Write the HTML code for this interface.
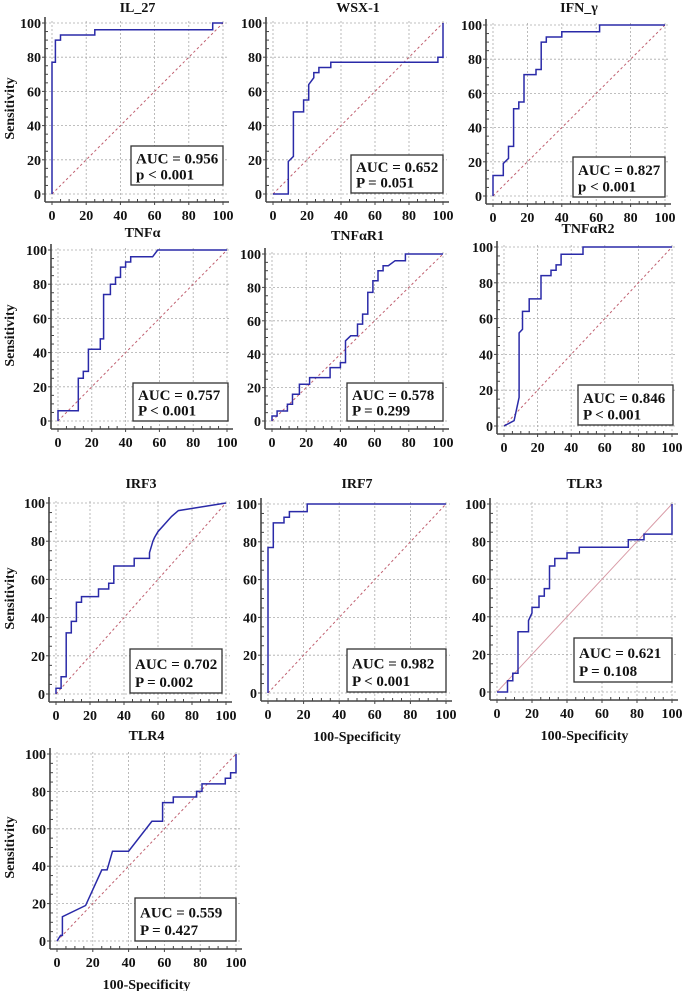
<!DOCTYPE html>
<html><head><meta charset="utf-8">
<style>
html,body{margin:0;padding:0;background:#fff;}
svg{display:block;font-family:"Liberation Serif",serif;font-weight:bold;}
</style></head>
<body>
<svg id="fig" width="684" height="991" viewBox="0 0 684 991" xmlns="http://www.w3.org/2000/svg"></svg>
<script>
const tickValues = [0,20,40,60,80,100];
const il27Fpr = [0,0,2,2,5,5,25,25,94,94,100];
const il27Tpr = [0,77,77,90,90,93,93,96,96,100,100];
const wsxFpr = [0,9,9,12,12,18,18,21,21,24,24,27,27,34,34,97,97,100,100];
const wsxTpr = [0,0,19,22,48,48,55,55,64,68,71,71,74,74,77,77,80,80,100];
const ifnFpr = [0,0,6,6,9,9,12,12,15,15,18,18,25,25,28,28,31,31,40,40,62,62,100];
const ifnTpr = [0,12,12,19,22,29,29,51,51,55,55,71,71,74,74,90,90,93,93,96,96,100,100];
const tnfFpr = [0,0,12,12,15,15,18,18,25,25,27,27,31,31,34,34,37,37,40,40,43,43,56,59,100];
const tnfTpr = [0,6,6,25,25,29,29,42,42,48,48,74,74,80,80,84,84,90,90,93,93,96,96,100,100];
const r1Fpr = [0,0,3,3,9,9,12,12,16,16,22,22,34,34,40,40,43,43,46,50,50,53,53,56,56,59,59,62,62,65,65,68,72,78,78,100];
const r1Tpr = [0,3,3,6,6,10,10,16,16,22,22,26,26,32,32,35,35,48,51,51,58,58,64,64,77,77,84,84,90,90,93,93,96,96,100,100];
const r2Fpr = [0,6,9,9,11,11,15,15,22,22,28,28,31,31,34,34,47,47,100];
const r2Tpr = [0,3,16,52,54,64,64,71,71,84,84,87,87,90,90,96,96,100,100];
const irf3Fpr = [0,0,3,3,6,6,9,9,12,12,15,15,25,25,31,31,34,34,46,46,55,55,57,58,60,68,68,72,72,100];
const irf3Tpr = [0,3,3,9,9,32,32,38,38,48,48,51,51,55,55,58,58,67,67,71,71,74,80,82,85,93,93,96,96,100];
const irf7Fpr = [0,0,3,3,9,9,12,12,22,22,100];
const irf7Tpr = [0,77,77,90,90,93,93,96,96,100,100];
const tlr3Fpr = [0,6,6,9,9,12,12,18,18,20,20,24,24,27,27,30,30,33,33,40,40,47,47,75,75,84,84,100,100];
const tlr3Tpr = [0,0,6,6,10,10,32,32,38,42,45,45,51,51,55,55,67,67,71,71,74,74,77,77,81,81,84,84,100];
const tlr4Fpr = [0,2,3,3,16,25,28,31,40,53,59,59,65,65,78,78,81,81,94,94,97,97,100,100];
const tlr4Tpr = [0,3,3,13,19,38,38,48,48,64,64,74,74,77,77,80,80,84,84,87,87,90,90,100];
const panelTitles = ["IL_27","WSX-1","IFN_\u03b3","TNF\u03b1","TNF\u03b1R1","TNF\u03b1R2","IRF3","IRF7","TLR3","TLR4"];
const aucLabels = ["AUC = 0.956","AUC = 0.652","AUC = 0.827","AUC = 0.757","AUC = 0.578","AUC = 0.846","AUC = 0.702","AUC = 0.982","AUC = 0.621","AUC = 0.559"];
const pLabels = ["p < 0.001","P = 0.051","p < 0.001","P < 0.001","P = 0.299","P < 0.001","P = 0.002","P < 0.001","P = 0.108","P = 0.427"];
const curvesFpr = [il27Fpr,wsxFpr,ifnFpr,tnfFpr,r1Fpr,r2Fpr,irf3Fpr,irf7Fpr,tlr3Fpr,tlr4Fpr];
const curvesTpr = [il27Tpr,wsxTpr,ifnTpr,tnfTpr,r1Tpr,r2Tpr,irf3Tpr,irf7Tpr,tlr3Tpr,tlr4Tpr];

const layout = [
 [52,223,23,194,12, 131,146,223,185, true,false],
 [273,443,23,194,12, 351,155,443,193, false,false],
 [493,665,25,196,12, 573,157,665,197, false,false],
 [58,227,250,421,237, 133,383,228,421, true,false],
 [272,443,254,421,240, 347,383,443,421, false,false],
 [504,672,247,426,233, 578,385,673,425, false,false],
 [56,226,503,694,488, 130,649,222,693, true,false],
 [268,446,504,693,488, 347,649,446,692, false,true],
 [497,672,504,692,488, 574,638,672,682, false,true],
 [57,236,754,941,740, 135,898,236,941, true,true]
];
const NS="http://www.w3.org/2000/svg";
const svg=document.getElementById('fig');
function mk(tag,attrs,parent){const e=document.createElementNS(NS,tag);for(const k in attrs)e.setAttribute(k,attrs[k]);(parent||svg).appendChild(e);return e;}

layout.forEach((L,i)=>{
  const [x0,x1,yt,yb,ty,bx1,by1,bx2,by2,showY,showX]=L;
  const g=mk('g',{});
  
  
  const sx=v=>x0+(x1-x0)*v/100;
  const sy=v=>yb-(yb-yt)*v/100;
  const ax=x0-7, ay=yb+8;
  tickValues.forEach(v=>{
    const gl=mk('line',{x1:sx(v),x2:sx(v),y1:yt-2,y2:ay,stroke:'#aaa','stroke-width':0.8,'stroke-dasharray':'2,2'},g);
    
    
    const gh=mk('line',{x1:ax,x2:x1+4,y1:sy(v),y2:sy(v),stroke:'#aaa','stroke-width':0.8,'stroke-dasharray':'2,2'},g);
    
    
  });
  const dAttrs = i===8
    ? {x1:sx(0),y1:sy(0),x2:sx(100),y2:sy(100),stroke:'#d89aa6','stroke-width':1}
    : {x1:sx(0),y1:sy(0),x2:sx(100),y2:sy(100),stroke:'#c06070','stroke-width':1,'stroke-dasharray':'2.5,2.5'};
  const d=mk('line',dAttrs,g);
  
  
  const ya=mk('line',{x1:ax,x2:ax,y1:yt-6,y2:ay,stroke:'#444','stroke-width':1.6},g);
  
  
  const xa=mk('line',{x1:ax,x2:x1+6,y1:ay,y2:ay,stroke:'#444','stroke-width':1.6},g);
  
  
  for(let v=0;v<=100;v+=5){
    const maj=v%20===0;
    mk('line',{x1:ax,x2:ax+(maj?-3:3),y1:sy(v),y2:sy(v),stroke:'#444','stroke-width':1},g);
    mk('line',{x1:sx(v),x2:sx(v),y1:ay,y2:ay+(maj?3:-3),stroke:'#444','stroke-width':1},g);
  }
  tickValues.forEach(v=>{
    const t=mk('text',{x:ax-4,y:sy(v)+5,'text-anchor':'end','font-size':14,fill:'#111'},g);
    t.textContent=v;
    
    
    const u=mk('text',{x:sx(v),y:ay+18,'text-anchor':'middle','font-size':14,fill:'#111'},g);
    u.textContent=v;
    
    
  });
  const tt=mk('text',{x:(x0+x1)/2,y:ty,'text-anchor':'middle','font-size':14,fill:'#111'},g);
  tt.textContent=panelTitles[i];
  
  
  if(showY){
    const cy=(yt+yb)/2;
    const yl=mk('text',{x:14,y:cy,'text-anchor':'middle','font-size':14,fill:'#111',transform:`rotate(-90 14 ${cy})`},g);
    yl.textContent='Sensitivity';
    
    
  }
  if(showX){
    const xl=mk('text',{x:(x0+x1)/2,y:ay+40,'text-anchor':'middle','font-size':14,fill:'#111'},g);
    xl.textContent='100-Specificity';
    
    
  }
  const F=curvesFpr[i],T=curvesTpr[i];
  const pts=F.map((f,k)=>sx(f).toFixed(1)+','+sy(T[k]).toFixed(1)).join(' ');
  const c=mk('polyline',{points:pts,fill:'none',stroke:'#2a2aa8','stroke-width':1.5},g);
  
  
  const b=mk('rect',{x:bx1,y:by1,width:bx2-bx1,height:by2-by1,fill:'#fff',stroke:'#333','stroke-width':1.3},g);
  
  
  const h=by2-by1;
  const a=mk('text',{x:bx1+5,y:by1+h*0.45,'font-size':15,fill:'#111'},g);
  a.textContent=aucLabels[i];
  
  
  const p=mk('text',{x:bx1+5,y:by1+h*0.86,'font-size':15,fill:'#111'},g);
  p.textContent=pLabels[i];
  
  
});
</script>
</body></html>
